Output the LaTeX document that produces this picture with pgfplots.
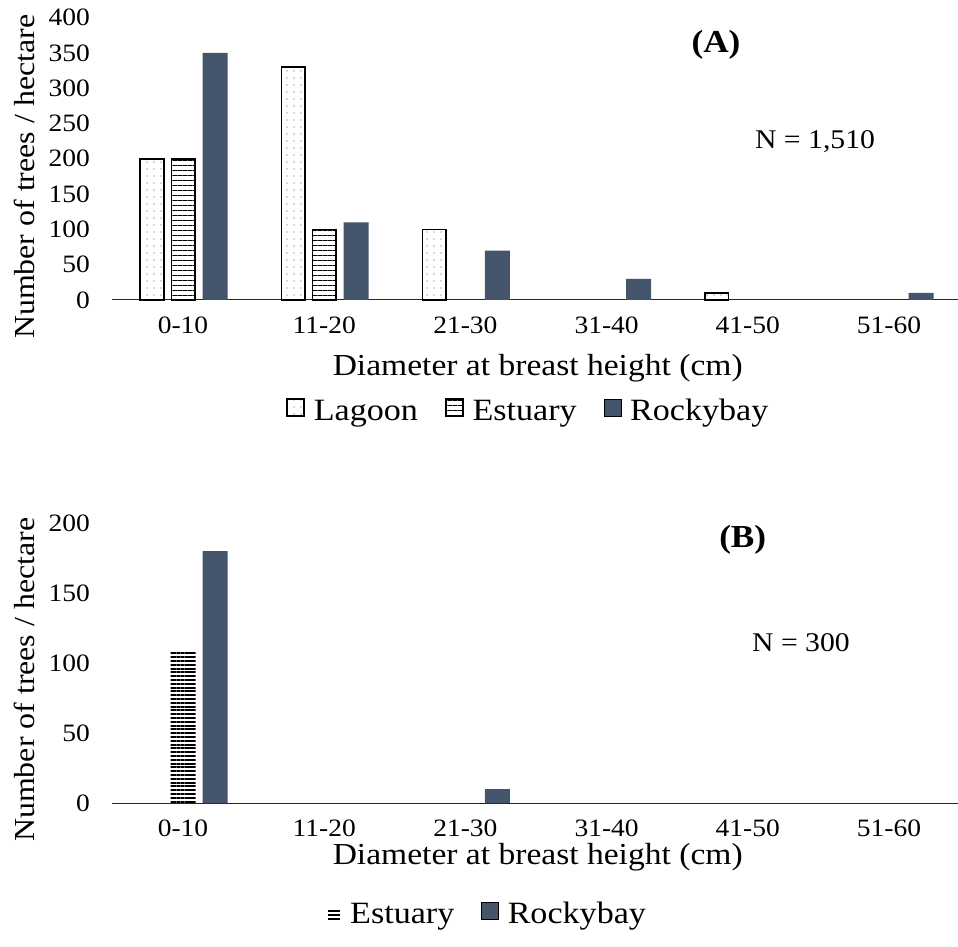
\documentclass[border=0pt]{standalone}
\usepackage{fontspec}
\setmainfont{Liberation Serif}[FakeStretch=1.1]
\usepackage{pgfplots}
\pgfplotsset{compat=1.18}
\usetikzlibrary{patterns.meta}
\definecolor{rocky}{HTML}{44546A}

\pgfplotsset{
  panel/.style={
    scale only axis, width=847.2pt, xmin=-0.5, xmax=5.5, ymin=0,
    axis x line*=bottom, axis y line*=left,
    y axis line style={draw=none},
    x axis line style={black!85, line width=1pt},
    major tick length=0pt,
    xtick={0,...,5},
    xticklabels={0-10,11-20,21-30,31-40,41-50,51-60},
    tick label style={font=\fontsize{25}{29}\selectfont},
    xticklabel style={yshift=-13pt},
    yticklabel style={xshift=-19pt},
    /pgf/number format/assume math mode=true,
    clip=false,
    xlabel={Diameter at breast height (cm)},
    ylabel={Number of trees / hectare},
    xlabel style={font=\fontsize{30.5}{36}\selectfont, anchor=base},
    ylabel style={font=\fontsize{29}{34}\selectfont, anchor=center},
    legend style={draw=none, fill=none, font=\fontsize{31}{36}\selectfont,
      legend columns=-1, anchor=center,
      /tikz/every odd column/.append style={column sep=7pt},
      /tikz/every even column/.append style={column sep=25pt}},
    legend image code/.code={\draw[##1] (0pt,-5pt) rectangle (17pt,12pt);},
  }
}

\begin{document}
\begin{tikzpicture}
\useasboundingbox (0,0) rectangle (958pt,946pt);

% Panel A
\begin{axis}[panel, at={(112.4pt,646pt)}, anchor=south west,
  height=282.4pt, ymax=400, ytick={0,50,...,400},
  xlabel style={at={(axis description cs:0.502,-0.2656)}},
  ylabel style={at={(axis description cs:-0.104,0.436)}},
  legend style={at={(axis description cs:0.491,-0.393)}},
]
\addplot[ybar, bar width=23.5pt, bar shift=-31pt, draw=black, line width=1.5pt,
  pattern={Dots[distance=7pt, radius=0.8pt]}, pattern color=black!30]
  coordinates {(0,200) (1,330) (2,100) (4,10)};
\addlegendentry{Lagoon}
\addplot[ybar, bar width=23.5pt, bar shift=0pt, draw=black, line width=1.5pt,
  pattern={Lines[angle=0, distance=5pt, line width=1pt]}, pattern color=black]
  coordinates {(0,200) (1,100)};
\addlegendentry{Estuary}
\addplot[ybar, bar width=25pt, bar shift=32pt, fill=rocky, draw=none]
  coordinates {(0,350) (1,110) (2,70) (3,30) (5,10)};
\addlegendentry{Rockybay}
\node[font=\bfseries\fontsize{32}{38}\selectfont] at (axis description cs:0.7125,0.903) {(A)};
\node[font=\fontsize{27}{32}\selectfont] at (axis description cs:0.8294,0.5595) {N = 1,510};
\end{axis}

% Panel B
\begin{axis}[panel, at={(112.4pt,143pt)}, anchor=south west,
  height=280pt, ymax=200, ytick={0,50,...,200},
  xlabel style={at={(axis description cs:0.502,-0.2214)}},
  ylabel style={at={(axis description cs:-0.104,0.44)}},
  legend style={at={(axis description cs:0.443,-0.396)}},
]
\addplot[ybar, bar width=25pt, bar shift=0pt, draw=none,
  pattern={Lines[angle=0, distance=3.8pt, line width=2pt]}, pattern color=black,
  legend image code/.code={\draw[line width=1.8pt] (0pt,-5pt)--(12pt,-5pt) (0pt,-1pt)--(12pt,-1pt) (0pt,3pt)--(12pt,3pt);}]
  coordinates {(0,108)};
\addlegendentry{Estuary}
\addplot[ybar, bar width=25pt, bar shift=32pt, fill=rocky, draw=none]
  coordinates {(0,180) (2,10)};
\addlegendentry{Rockybay}
\node[font=\bfseries\fontsize{32}{38}\selectfont] at (axis description cs:0.744,0.939) {(B)};
\node[font=\fontsize{27}{32}\selectfont] at (axis description cs:0.8128,0.571) {N = 300};
\end{axis}
\end{tikzpicture}
\end{document}
